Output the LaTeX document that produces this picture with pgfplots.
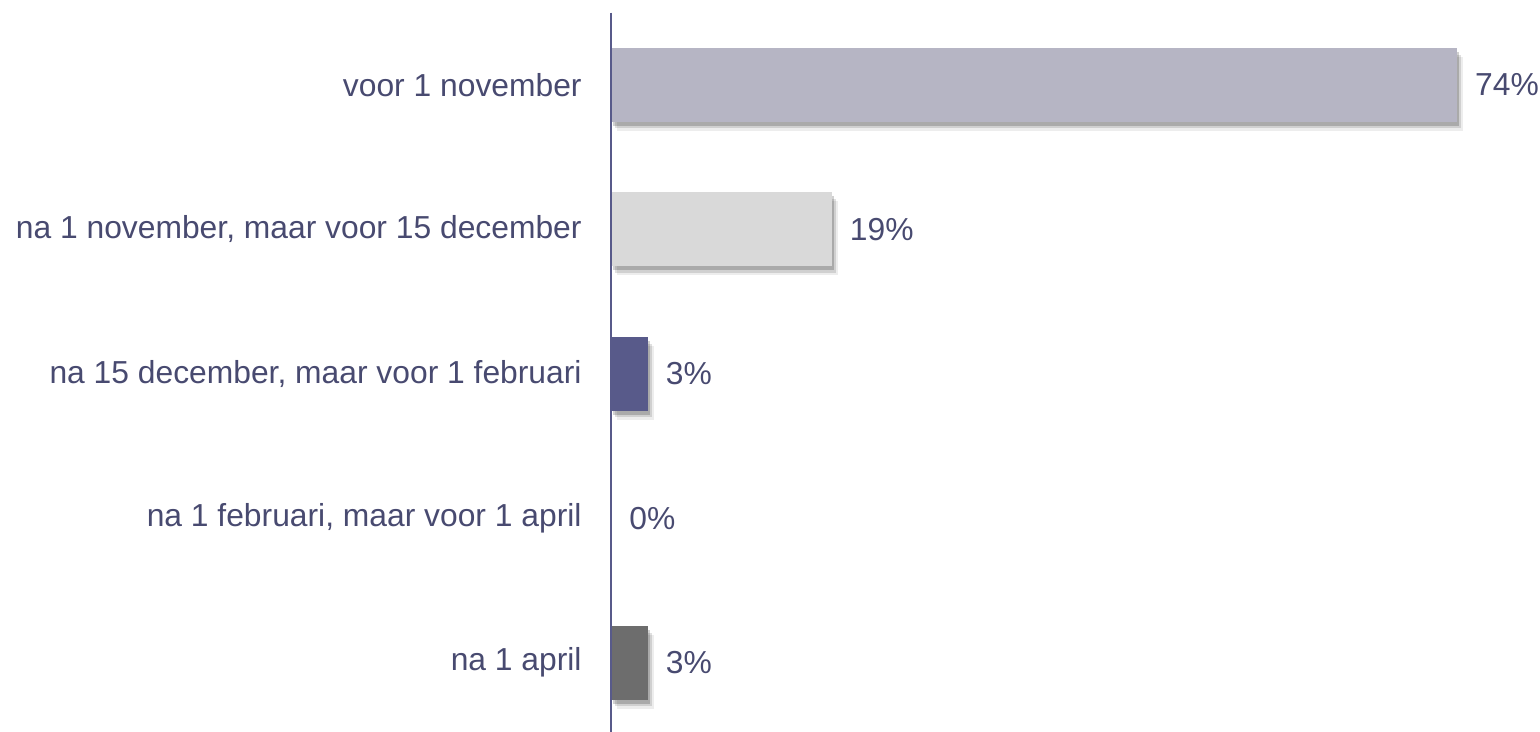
\documentclass[border=0pt]{standalone}
\usepackage{pgfplots}
\pgfplotsset{compat=1.18}
\usepackage{fontspec}
\setmainfont{Liberation Sans}
\usetikzlibrary{shadows}
\definecolor{txt}{RGB}{72,74,112}
\definecolor{axc}{RGB}{88,90,138}
\definecolor{c1}{RGB}{182,181,196}
\definecolor{c2}{RGB}{217,217,217}
\definecolor{c3}{RGB}{88,90,138}
\definecolor{c5}{RGB}{109,109,109}
\tikzset{softshadow/.style={
  general shadow={shadow xshift=3pt, shadow yshift=-4.5pt, opacity=0.07, fill=black},
  general shadow={shadow xshift=2.2pt, shadow yshift=-3.3pt, opacity=0.12, fill=black},
  general shadow={shadow xshift=1.2pt, shadow yshift=-2pt, opacity=0.18, fill=black}}}
\begin{document}
\begin{tikzpicture}
\useasboundingbox (-305.5pt,1.5pt) rectangle (464.5pt,367.5pt);
\begin{axis}[
  at={(0,0)}, anchor=south west,
  scale only axis, width=457.2pt, height=361.25pt,
  xbar, bar width=0.51, bar shift=0pt,
  xmin=0, xmax=80, ymin=-0.5, ymax=4.5, y dir=reverse,
  axis x line=none, axis y line=left,
  axis line style={-, color=axc, line width=1pt},
  axis on top,
  ytick={0,1,2,3,4},
  yticklabels={voor 1 november, {na 1 november, maar voor 15 december}, {na 15 december, maar voor 1 februari}, {na 1 februari, maar voor 1 april}, na 1 april},
  major tick length=0pt,
  yticklabel style={font=\fontsize{15.9}{19}\selectfont, text=txt, inner sep=0pt, xshift=-14.5pt},
  nodes near coords, point meta=explicit symbolic,
  every node near coord/.append style={font=\fontsize{15.9}{19}\selectfont, text=txt, anchor=west, inner sep=0pt, xshift=9pt},
  clip=false,
]
\addplot[fill=c1, draw=none, softshadow] coordinates {(74,0) [74\%]};
\addplot[fill=c2, draw=none, softshadow] coordinates {(19.3,1) [19\%]};
\addplot[fill=c3, draw=none, softshadow] coordinates {(3.2,2) [3\%]};
\addplot[fill=none, draw=none] coordinates {(0,3) [0\%]};
\addplot[fill=c5, draw=none, softshadow] coordinates {(3.2,4) [3\%]};
\end{axis}
\end{tikzpicture}
\end{document}
